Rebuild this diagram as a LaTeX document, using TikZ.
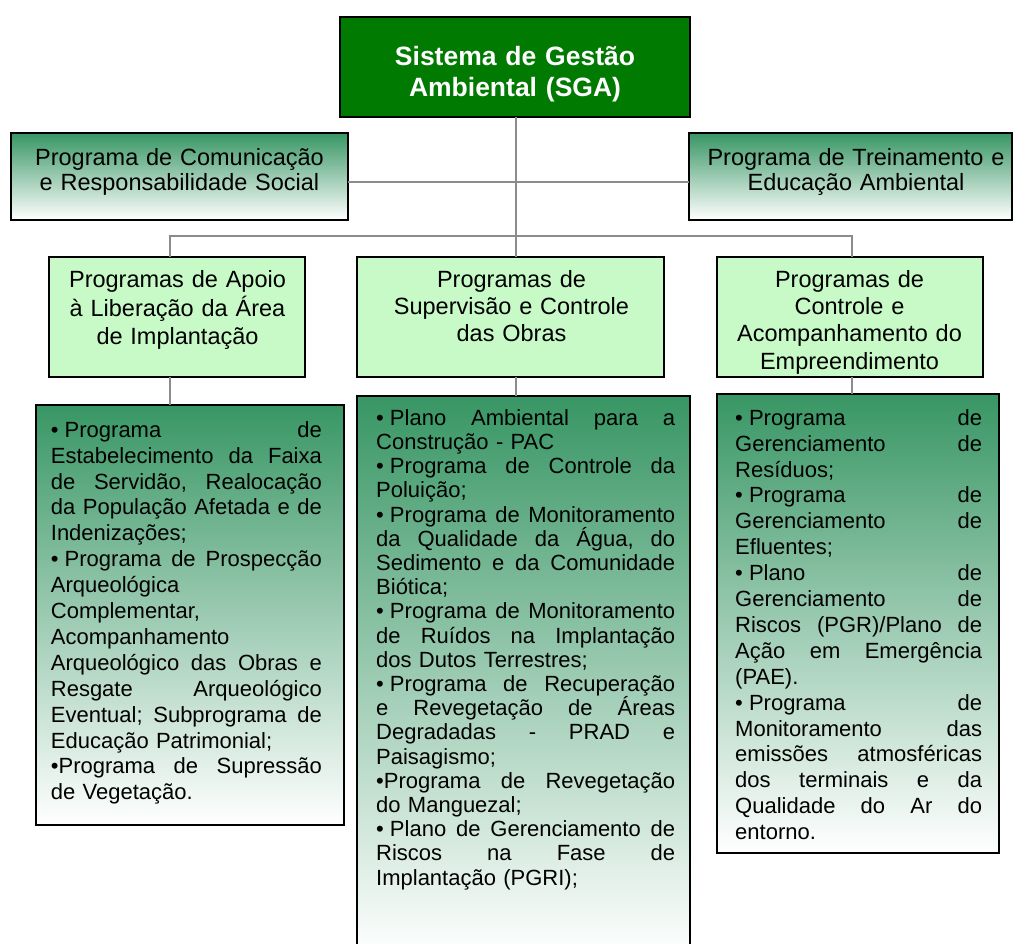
\documentclass[tikz,border=0pt]{standalone}
\usepackage{fontspec}
\setmainfont{Liberation Sans}
\definecolor{sgagreen}{RGB}{0,122,0}
\definecolor{gtop}{RGB}{56,150,100}
\definecolor{lgreen}{RGB}{200,250,200}
\definecolor{connc}{RGB}{140,140,140}
\newcommand\bu{•\hspace{0.278em}}
\newcommand\gap{\hspace{0.278em}\hfill}
\newcommand\JA[1]{\leavevmode\hbox to 271pt{#1}}
\newcommand\JB[1]{\leavevmode\hbox to 299pt{#1}}
\newcommand\JC[1]{\leavevmode\hbox to 247pt{#1}}
\lineskiplimit=-50pt
\begin{document}
\begin{tikzpicture}[x=1pt,y=-1pt,
  box/.style={draw=black,line width=1.3pt,rectangle,inner sep=0pt,outer sep=0pt},
  sgabox/.style={box,fill=sgagreen},
  gradbox/.style={box,top color=gtop,bottom color=white},
  lightbox/.style={box,fill=lgreen},
  conn/.style={draw=connc,line width=2pt},
  headtext/.style={inner sep=0pt,anchor=north,align=center,text width=#1},
  bodytext/.style={inner sep=0pt,anchor=north west,text width=#1}
]
\useasboundingbox (0,0) rectangle (1014,943);

% boxes
\node[sgabox,minimum width=350pt,minimum height=100pt] (sga) at (515,67) {};
\node[gradbox,minimum width=337pt,minimum height=87pt] (com) at (179.5,176.5) {};
\node[gradbox,minimum width=323pt,minimum height=87pt] (tre) at (850.5,176.5) {};
\node[lightbox,minimum width=256pt,minimum height=120pt] (apo) at (177,317) {};
\node[lightbox,minimum width=307pt,minimum height=120pt] (sup) at (510.5,317) {};
\node[lightbox,minimum width=266pt,minimum height=120pt] (ctl) at (850,317) {};
\node[gradbox,minimum width=308pt,minimum height=420pt] (bapo) at (190,615) {};
\node[gradbox,minimum width=333pt,minimum height=559pt] (bsup) at (523.5,675.5) {};
\node[gradbox,minimum width=282pt,minimum height=459pt] (bctl) at (858,623.5) {};

% connectors
\coordinate (hl) at (0,182);
\coordinate (bus) at (0,236);
\coordinate (xl) at (170,0);
\coordinate (xm) at (516,0);
\coordinate (xr) at (852,0);
\draw[conn] (com.east |- hl) -- (tre.west |- hl);
\draw[conn] (xm |- sga.south) -- (xm |- sup.north);
\draw[conn] (xl |- apo.north) -- (xl |- bus) -- (xr |- bus) -- (xr |- ctl.north);
\draw[conn] (xl |- apo.south) -- (xl |- bapo.north);
\draw[conn] (xm |- sup.south) -- (xm |- bsup.north);
\draw[conn] (xr |- ctl.south) -- (xr |- bctl.north);

% texts
\node[headtext=340pt,text=white,font=\bfseries\fontsize{26.5}{31}\selectfont] (sgat) at (515,43.3)
  {\strut Sistema de Gestão\\Ambiental (SGA)};
\node[headtext=330pt,font=\fontsize{23.5}{25}\selectfont] (comt) at (179.5,147.5)
  {\strut Programa de Comunicação\\e Responsabilidade Social};
\node[headtext=320pt,font=\fontsize{23.5}{25}\selectfont] (tret) at (856,147.5)
  {\strut Programa de Treinamento e\\Educação Ambiental};
\node[headtext=250pt,font=\fontsize{23.5}{27.3}\selectfont] (apot) at (177.5,267.9)
  {\strut Programas de Apoio\\à Liberação da Área\\de Implantação};
\node[headtext=300pt,font=\fontsize{23.5}{27.3}\selectfont] (supt) at (511.5,267.9)
  {\strut Programas de\\Supervisão e Controle\\das Obras};
\node[headtext=260pt,font=\fontsize{23.5}{27.3}\selectfont] (ctlt) at (849.5,267.9)
  {\strut Programas de\\Controle e\\Acompanhamento do\\Empreendimento};

\node[bodytext=271pt,font=\fontsize{22}{25.9}\selectfont] (bapot) at (50.7,418.9)
  {\strut\JA{\bu Programa\gap de}\\
   \JA{Estabelecimento\gap da\gap Faixa}\\
   \JA{de\gap Servidão,\gap Realocação}\\
   \JA{da\gap População\gap Afetada\gap e\gap de}\\
   Indenizações;\\
   \JA{\bu Programa\gap de\gap Prospecção}\\
   Arqueológica\\
   Complementar,\\
   Acompanhamento\\
   \JA{Arqueológico\gap das\gap Obras\gap e}\\
   \JA{Resgate\gap Arqueológico}\\
   \JA{Eventual;\gap Subprograma\gap de}\\
   Educação Patrimonial;\\
   \JA{•Programa\gap de\gap Supressão}\\
   de Vegetação.};

\node[bodytext=299pt,font=\fontsize{22}{24.2}\selectfont] (bsupt) at (376,408.1)
  {\strut\JB{\bu Plano\gap Ambiental\gap para\gap a}\\
   Construção - PAC\\
   \JB{\bu Programa\gap de\gap Controle\gap da}\\
   Poluição;\\
   \JB{\bu Programa\gap de\gap Monitoramento}\\
   \JB{da\gap Qualidade\gap da\gap Água,\gap do}\\
   \JB{Sedimento\gap e\gap da\gap Comunidade}\\
   Biótica;\\
   \JB{\bu Programa\gap de\gap Monitoramento}\\
   \JB{de\gap Ruídos\gap na\gap Implantação}\\
   dos Dutos Terrestres;\\
   \JB{\bu Programa\gap de\gap Recuperação}\\
   \JB{e\gap Revegetação\gap de\gap Áreas}\\
   \JB{Degradadas\gap -\gap PRAD\gap e}\\
   Paisagismo;\\
   \JB{•Programa\gap de\gap Revegetação}\\
   do Manguezal;\\
   \JB{\bu Plano\gap de\gap Gerenciamento\gap de}\\
   \JB{Riscos\gap na\gap Fase\gap de}\\
   Implantação (PGRI);};

\node[bodytext=247pt,font=\fontsize{22}{25.9}\selectfont] (bctlt) at (735,406.9)
  {\strut\JC{\bu Programa\gap de}\\
   \JC{Gerenciamento\gap de}\\
   Resíduos;\\
   \JC{\bu Programa\gap de}\\
   \JC{Gerenciamento\gap de}\\
   Efluentes;\\
   \JC{\bu Plano\gap de}\\
   \JC{Gerenciamento\gap de}\\
   \JC{Riscos\gap (PGR)/Plano\gap de}\\
   \JC{Ação\gap em\gap Emergência}\\
   (PAE).\\
   \JC{\bu Programa\gap de}\\
   \JC{Monitoramento\gap das}\\
   \JC{emissões\gap atmosféricas}\\
   \JC{dos\gap terminais\gap e\gap da}\\
   \JC{Qualidade\gap do\gap Ar\gap do}\\
   entorno.};
\end{tikzpicture}
\end{document}
